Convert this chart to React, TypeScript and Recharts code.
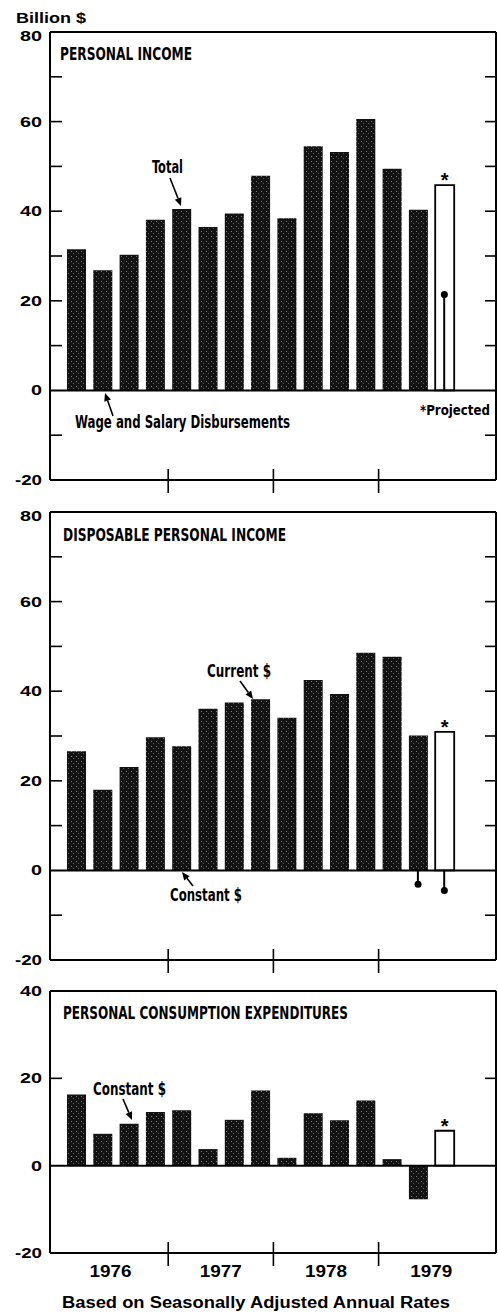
import {
  Bar,
  Cell,
  ComposedChart,
  LabelList,
  Line,
  ReferenceLine,
  XAxis,
  YAxis,
} from "recharts";

const quarters = [
  "1976Q1", "1976Q2", "1976Q3", "1976Q4",
  "1977Q1", "1977Q2", "1977Q3", "1977Q4",
  "1978Q1", "1978Q2", "1978Q3", "1978Q4",
  "1979Q1", "1979Q2", "1979Q3",
];
const years = ["1976", "1977", "1978", "1979"];

// Personal income, change in billion $
const piTotal = [31.5, 26.8, 30.3, 38.1, 40.5, 36.5, 39.5, 47.9, 38.4, 54.5, 53.2, 60.6, 49.5, 40.3];
const piTotalProjected = 45.8;
const piWageProjected = 21.4;

// Disposable personal income
const dpiCurrent = [26.6, 18.0, 23.1, 29.7, 27.7, 36.1, 37.5, 38.2, 34.1, 42.5, 39.4, 48.6, 47.7, 30.1];
const dpiCurrentProjected = 30.9;
const dpiConstantLast = -3.1;
const dpiConstantProjected = -4.5;

// Personal consumption expenditures, constant $
const pceConstant = [16.3, 7.3, 9.6, 12.3, 12.7, 3.8, 10.5, 17.2, 1.8, 12.0, 10.4, 14.9, 1.5, -7.7];
const pceConstantProjected = 8.0;

const ticks80 = [-20, -10, 0, 10, 20, 30, 40, 50, 60, 70, 80];
const ticks40 = [-20, 0, 20, 40];

type Row = { q: string; v: number; proj: boolean; stem: number | null };

function buildRows(actual: number[], projected: number, stems: (number | null)[]): Row[] {
  return quarters.map((q, i) => ({
    q,
    v: i < actual.length ? actual[i] : projected,
    proj: i >= actual.length,
    stem: stems[i] ?? null,
  }));
}

const piRows = buildRows(piTotal, piTotalProjected, quarters.map((_, i) => (i === 14 ? piWageProjected : null)));
const dpiRows = buildRows(
  dpiCurrent,
  dpiCurrentProjected,
  quarters.map((_, i) => (i === 13 ? dpiConstantLast : i === 14 ? dpiConstantProjected : null)),
);
const pceRows = buildRows(pceConstant, pceConstantProjected, []);

const W = 498;
const AXIS_W = 50;
const PLOT_W = W - AXIS_W - 2;
const PAD_L = 13;
const PAD_R = 38.5;
const BAND = (PLOT_W - PAD_L - PAD_R) / quarters.length;
const NUM_FONT = "'Liberation Sans', Arial, sans-serif";
const COND_FONT = "'DejaVu Sans Condensed', 'DejaVu Sans', sans-serif";

type PanelProps = {
  id: string;
  top: number;
  height: number;
  mTop: number;
  mBottom: number;
  domain: [number, number];
  ticks: number[];
  rows: Row[];
  showYears?: boolean;
};

function Panel({ id, top, height, mTop, mBottom, domain, ticks, rows, showYears }: PanelProps) {
  const leftTick = (props: any) => {
    const { x, y, payload } = props;
    const v = payload.value as number;
    const edge = v === domain[0] || v === domain[1];
    const label = String(v);
    return (
      <g>
        {!edge && v !== 0 && <line x1={x} x2={x + 12} y1={y} y2={y} stroke="#000" strokeWidth={1.6} />}
        {v % 20 === 0 && (
          <text
            x={x - 8}
            y={y + 5 + (v === 80 ? 4 : 0)}
            textAnchor="end"
            textLength={label.replace("-", "").length * 11 + (v < 0 ? 5 : 0)}
            lengthAdjust="spacingAndGlyphs"
            fontFamily={NUM_FONT}
            fontWeight="bold"
            fontSize={15}
            fill="#000"
          >
            {label}
          </text>
        )}
      </g>
    );
  };

  const rightTick = (props: any) => {
    const { x, y, payload } = props;
    const v = payload.value as number;
    if (v === domain[0] || v === domain[1] || v === 0) return <g />;
    return <line x1={x - 11} x2={x} y1={y} y2={y} stroke="#000" strokeWidth={1.6} />;
  };

  const bottomTick = (props: any) => {
    const { x, y, index } = props;
    const qi = index % 4;
    return (
      <g>
        {qi === 3 && (
          <line x1={x + BAND / 2} x2={x + BAND / 2} y1={y - 11} y2={y + 13} stroke="#000" strokeWidth={1.6} />
        )}
        {showYears && qi === 1 && (
          <text
            x={x + BAND / 2 - (index === 1 ? 5 : 0)}
            y={y + 24}
            textAnchor="middle"
            textLength={42}
            lengthAdjust="spacingAndGlyphs"
            fontFamily={NUM_FONT}
            fontWeight="bold"
            fontSize={16}
            fill="#000"
          >
            {years[Math.floor(index / 4)]}
          </text>
        )}
      </g>
    );
  };

  const star = (props: any) => {
    const { x, y, width, index } = props;
    if (!rows[index]?.proj) return null;
    return (
      <text
        x={x + width / 2}
        y={y + 2}
        textAnchor="middle"
        fontFamily={NUM_FONT}
        fontWeight="bold"
        fontSize={20}
        fill="#000"
      >
        *
      </text>
    );
  };

  return (
    <div style={{ position: "absolute", left: 0, top, width: W, height }}>
      <ComposedChart
        width={W}
        height={height}
        data={rows}
        margin={{ top: mTop - 1, right: 0, bottom: mBottom - 1, left: 0 }}
      >
        <defs>
          <pattern id={id} width={5} height={5} patternUnits="userSpaceOnUse">
            <rect width={5} height={5} fill="#131313" />
            <rect x={1} y={1} width={1} height={1} fill="#7a7a7a" />
            <rect x={3} y={3} width={1} height={1} fill="#5a5a5a" />
          </pattern>
        </defs>
        <XAxis
          xAxisId="x"
          dataKey="q"
          type="category"
          height={1}
          padding={{ left: PAD_L, right: PAD_R }}
          interval={0}
          tickSize={0}
          tickMargin={0}
          tickLine={false}
          axisLine={{ stroke: "#000", strokeWidth: 2 }}
          tick={bottomTick}
        />
        <XAxis
          xAxisId="t"
          dataKey="q"
          orientation="top"
          height={1}
          tick={false}
          tickLine={false}
          axisLine={{ stroke: "#000", strokeWidth: 2 }}
        />
        <XAxis
          xAxisId="s"
          dataKey="q"
          orientation="top"
          height={0}
          hide
          padding={{ left: PAD_L, right: PAD_R }}
        />
        <YAxis
          yAxisId="l"
          width={AXIS_W}
          domain={domain}
          ticks={ticks}
          interval={0}
          allowDataOverflow
          tickSize={0}
          tickMargin={0}
          tickLine={false}
          axisLine={{ stroke: "#000", strokeWidth: 2 }}
          tick={leftTick}
        />
        <YAxis
          yAxisId="r"
          orientation="right"
          width={2}
          domain={domain}
          ticks={ticks}
          interval={0}
          allowDataOverflow
          tickSize={0}
          tickMargin={0}
          tickLine={false}
          axisLine={{ stroke: "#000", strokeWidth: 2 }}
          tick={rightTick}
        />
        <Bar dataKey="v" xAxisId="x" yAxisId="l" barSize={19} isAnimationActive={false}>
          {rows.map((r) => (
            <Cell
              key={r.q}
              fill={r.proj ? "#fff" : `url(#${id})`}
              stroke={r.proj ? "#000" : "none"}
              strokeWidth={1.8}
            />
          ))}
          <LabelList dataKey="v" content={star} />
        </Bar>
        <Bar dataKey="stem" xAxisId="s" yAxisId="l" barSize={2} fill="#000" isAnimationActive={false} />
        <Line
          dataKey="stem"
          xAxisId="s"
          yAxisId="l"
          stroke="none"
          dot={{ r: 3.5, fill: "#000", stroke: "none" }}
          activeDot={false}
          isAnimationActive={false}
        />
        <ReferenceLine y={0} yAxisId="l" xAxisId="x" stroke="#000" strokeWidth={2} />
      </ComposedChart>
    </div>
  );
}

function Arrow({ x1, y1, x2, y2 }: { x1: number; y1: number; x2: number; y2: number }) {
  const a = Math.atan2(y2 - y1, x2 - x1);
  const L = 8;
  const Wd = 3.5;
  const bx = x2 - L * Math.cos(a);
  const by = y2 - L * Math.sin(a);
  const px = -Math.sin(a) * Wd;
  const py = Math.cos(a) * Wd;
  return (
    <g>
      <line x1={x1} y1={y1} x2={bx} y2={by} stroke="#000" strokeWidth={1.6} />
      <polygon points={`${x2},${y2} ${bx + px},${by + py} ${bx - px},${by - py}`} fill="#000" />
    </g>
  );
}

function Label({ x, y, w, size = 16, children }: { x: number; y: number; w: number; size?: number; children: string }) {
  return (
    <text
      x={x}
      y={y}
      textLength={w}
      lengthAdjust="spacingAndGlyphs"
      fontFamily={COND_FONT}
      fontStretch="condensed"
      fontWeight="bold"
      fontSize={size}
      fill="#000"
    >
      {children}
    </text>
  );
}

export default function App() {
  return (
    <div style={{ position: "absolute", left: 0, top: 0, width: W, height: 1313, background: "#fff" }}>
      <Panel id="st1" top={0} height={500} mTop={32} mBottom={20} domain={[-20, 80]} ticks={ticks80} rows={piRows} />
      <Panel id="st2" top={480} height={500} mTop={32} mBottom={20} domain={[-20, 80]} ticks={ticks80} rows={dpiRows} />
      <Panel
        id="st3"
        top={960}
        height={353}
        mTop={31}
        mBottom={60}
        domain={[-20, 40]}
        ticks={ticks40}
        rows={pceRows}
        showYears
      />
      <svg
        width={W}
        height={1313}
        style={{ position: "absolute", left: 0, top: 0, pointerEvents: "none" }}
      >
        <text x={16} y={23} fontFamily={NUM_FONT} fontWeight="bold" fontSize={15} textLength={70} lengthAdjust="spacingAndGlyphs" fill="#000">
          Billion $
        </text>

        <Label x={60} y={60} w={132} size={17}>PERSONAL INCOME</Label>
        <Label x={152} y={173} w={31} size={17}>Total</Label>
        <Arrow x1={170} y1={178} x2={181} y2={206} />
        <Label x={75} y={428} w={215} size={17}>Wage and Salary Disbursements</Label>
        <Arrow x1={113} y1={416} x2={105} y2={393} />
        <Label x={420} y={415} w={70} size={14}>*Projected</Label>

        <Label x={63} y={541} w={223} size={17}>DISPOSABLE PERSONAL INCOME</Label>
        <Label x={207} y={677} w={64} size={17}>Current $</Label>
        <Arrow x1={240} y1={681} x2={253} y2={699} />
        <Label x={170} y={901} w={72} size={17}>Constant $</Label>
        <Arrow x1={193} y1={886} x2={182} y2={872} />

        <Label x={63} y={1019} w={285} size={17}>PERSONAL CONSUMPTION EXPENDITURES</Label>
        <Label x={93} y={1095} w={73} size={17}>Constant $</Label>
        <Arrow x1={123} y1={1099} x2={132} y2={1120} />

        <text x={62} y={1308} fontFamily={NUM_FONT} fontWeight="bold" fontSize={16} textLength={388} lengthAdjust="spacingAndGlyphs" fill="#000">
          Based on Seasonally Adjusted Annual Rates
        </text>
      </svg>
    </div>
  );
}
